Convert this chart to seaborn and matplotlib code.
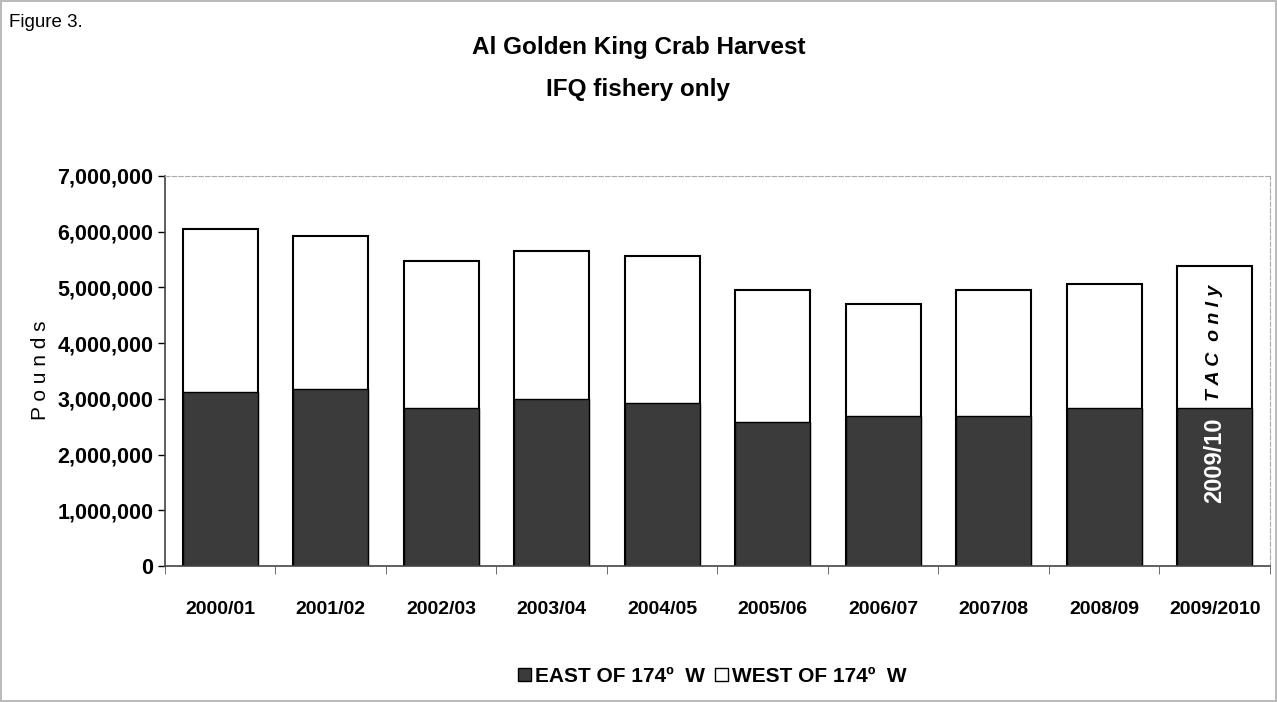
import numpy as np
import pandas as pd
import matplotlib
matplotlib.use("Agg")
import matplotlib.pyplot as plt
from matplotlib.ticker import FuncFormatter
from matplotlib.patches import Patch
import seaborn as sns

# donnees (livres)
seasons = ["2000/01", "2001/02", "2002/03", "2003/04", "2004/05",
           "2005/06", "2006/07", "2007/08", "2008/09", "2009/2010"]
east = [3120000, 3170000, 2830000, 2990000, 2920000,
        2580000, 2690000, 2690000, 2830000, 2830000]
west = [2920000, 2750000, 2640000, 2660000, 2650000,
        2370000, 2010000, 2260000, 2240000, 2560000]
totals = [e + w for e, w in zip(east, west)]

df = pd.DataFrame({"season": seasons, "east": east, "total": totals})

sns.set_style("white")
plt.rcParams["font.family"] = ["Liberation Sans", "DejaVu Sans"]
for k in ["text.color", "axes.labelcolor", "xtick.color", "ytick.color"]:
    plt.rcParams[k] = "black"

fig = plt.figure(figsize=(12.77, 7.02), dpi=100)
ax = fig.add_axes([0.1292, 0.1937, 0.8653, 0.5556])

dark = "#3b3b3b"
# barre totale (ouest en blanc) puis partie est par-dessus
sns.barplot(data=df, x="season", y="total", color="white", edgecolor="black",
            linewidth=1.5, width=0.68, ax=ax, saturation=1)
sns.barplot(data=df, x="season", y="east", color=dark, edgecolor="black",
            linewidth=1.0, width=0.68, ax=ax, saturation=1)

ax.set_ylim(0, 7000000)
ax.set_xlim(-0.5, len(seasons) - 0.5)
ax.set_yticks(np.arange(0, 7000001, 1000000))
ax.yaxis.set_major_formatter(FuncFormatter(lambda v, p: f"{int(v):,}"))
ax.tick_params(axis="y", labelsize=15.5, length=5, direction="out", left=True, width=1)
ax.tick_params(axis="x", labelsize=14, length=0, pad=25)
for lab in ax.get_yticklabels() + ax.get_xticklabels():
    lab.set_fontweight("bold")
# petits tirets entre les categories
ax.set_xticks(np.arange(-0.5, len(seasons), 1), minor=True)
ax.tick_params(axis="x", which="minor", length=6, bottom=True, color="#555555")

ax.set_xlabel("")
ax.set_ylabel("")
fig.text(0.032, 0.473, "P o u n d s", rotation=90, ha="center", va="center",
         fontsize=15)

for side in ["left", "bottom"]:
    ax.spines[side].set_color("#444444")
    ax.spines[side].set_linewidth(1.2)
for side in ["top", "right"]:
    ax.spines[side].set_color("#aaaaaa")
    ax.spines[side].set_linewidth(0.8)
    ax.spines[side].set_linestyle((0, (4, 2)))

# annotation dans la derniere barre
last = len(seasons) - 1
ax.text(last, 1900000, "2009/10", rotation=90, color="white", fontsize=17,
        fontweight="bold", ha="center", va="center")
ax.text(last, 4000000, "T A C  o n l y", rotation=90, color="black", fontsize=14,
        fontweight="bold", style="italic", ha="center", va="center")

fig.text(0.5, 0.933, "Al Golden King Crab Harvest", ha="center", va="center",
         fontsize=17.5, fontweight="bold")
fig.text(0.5, 0.872, "IFQ fishery only", ha="center", va="center",
         fontsize=17.5, fontweight="bold")
fig.text(0.007, 0.968, "Figure 3.", ha="left", va="center", fontsize=13.5)

handles = [Patch(facecolor=dark, edgecolor="black", label="EAST OF 174º  W"),
           Patch(facecolor="white", edgecolor="black", label="WEST OF 174º  W")]
leg = fig.legend(handles=handles, loc="center", bbox_to_anchor=(0.558, 0.037),
                 ncol=2, frameon=False, fontsize=15, handlelength=0.6,
                 handleheight=0.6, handletextpad=0.2, columnspacing=0.5)
for t in leg.get_texts():
    t.set_fontweight("bold")

fig.patch.set_edgecolor("#bbbbbb")
fig.patch.set_linewidth(1.5)

fig.savefig("out.png", dpi=100, edgecolor=fig.get_edgecolor())
